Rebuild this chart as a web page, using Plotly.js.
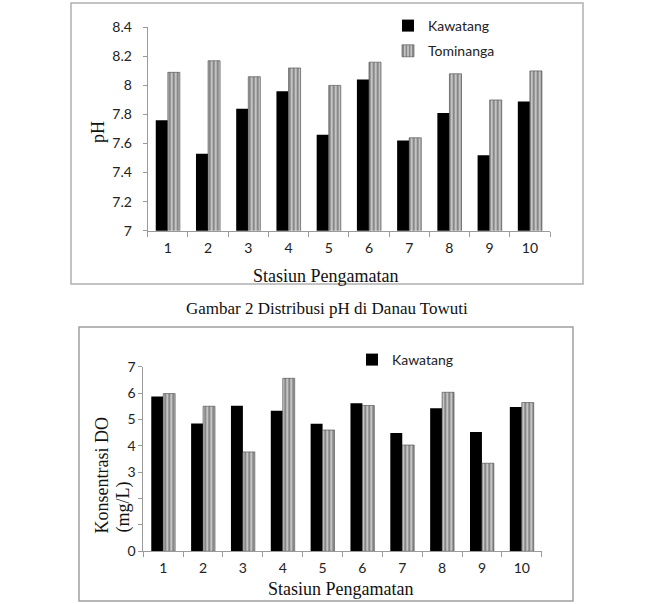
<!DOCTYPE html>
<html><head><meta charset="utf-8">
<script src="https://cdn.plot.ly/plotly-3.0.1.min.js"></script>
<style>html,body{margin:0;padding:0;background:#fff}#chart{width:662px;height:604px}</style>
</head><body><div id="chart"></div>
<script>
// ---- data ----
const stations = ['1','2','3','4','5','6','7','8','9','10'];
const phKawatang = [7.76, 7.53, 7.84, 7.96, 7.66, 8.04, 7.62, 7.81, 7.52, 7.89];
const phTominanga = [8.09, 8.17, 8.06, 8.12, 8.00, 8.16, 7.64, 8.08, 7.90, 8.10];
const doKawatang = [5.87, 4.85, 5.52, 5.33, 4.84, 5.61, 4.49, 5.42, 4.52, 5.47];
const doTominanga = [5.98, 5.50, 3.77, 6.56, 4.60, 5.53, 4.03, 6.03, 3.34, 5.64];
const phTickVals = [7, 7.2, 7.4, 7.6, 7.8, 8, 8.2, 8.4];
const phTickText = ['7', '7.2', '7.4', '7.6', '7.8', '8', '8.2', '8.4'];
const doTickVals = [0, 1, 2, 3, 4, 5, 6, 7];
const doTickText = ['0', '1', '2', '3', '4', '5', '6', '7'];
const seriesNames = ['Kawatang', 'Tominanga'];
const caption = 'Gambar 2 Distribusi pH di Danau Towuti';

// ---- helpers (pixel -> paper) ----
const W = 662, H = 604;
const px = x => x / W;
const py = y => 1 - y / H;

const sans = 'Lato, "Open Sans", sans-serif';
const serif = '"Liberation Serif", "Times New Roman", serif';

const kawMarker = {color: '#000000', line: {width: 0}};
const tomMarker = {
  color: '#c4c4c4',
  pattern: {shape: '|', fgcolor: '#6e6e6e', bgcolor: '#c4c4c4', size: 4, solidity: 0.35},
  line: {color: '#444', width: 0.6}
};

const traces = [
  {type: 'bar', x: stations, y: phKawatang, name: seriesNames[0], marker: kawMarker,
   xaxis: 'x', yaxis: 'y', legend: 'legend', legendgroup: 'a'},
  {type: 'bar', x: stations, y: phTominanga, name: seriesNames[1], marker: tomMarker,
   xaxis: 'x', yaxis: 'y', legend: 'legend', legendgroup: 'b'},
  {type: 'bar', x: stations, y: doKawatang, name: seriesNames[0], marker: kawMarker,
   xaxis: 'x2', yaxis: 'y2', legend: 'legend2'},
  {type: 'bar', x: stations, y: doTominanga, name: seriesNames[1], marker: tomMarker,
   xaxis: 'x2', yaxis: 'y2', showlegend: false}
];

const axisCommon = {
  showline: true, linecolor: '#9a9a9a', linewidth: 1, showgrid: false, zeroline: false,
  ticks: 'outside', tickcolor: '#9a9a9a', ticklen: 4, tickfont: {family: sans, size: 14, color: '#222'},
  fixedrange: true
};

const ann = (text, x, y, extra) => Object.assign({
  text: text, xref: 'paper', yref: 'paper', x: px(x), y: py(y), showarrow: false,
  xanchor: 'center', yanchor: 'middle', font: {family: serif, size: 18, color: '#111'}
}, extra || {});

const layout = {
  width: W, height: H,
  margin: {l: 0, r: 0, t: 0, b: 0},
  paper_bgcolor: '#fff', plot_bgcolor: 'rgba(0,0,0,0)',
  barmode: 'group', bargap: 0.4, bargroupgap: 0,
  showlegend: true,
  xaxis: Object.assign({}, axisCommon, {
    domain: [px(147.7), px(550)], anchor: 'y', type: 'category',
    tickson: 'boundaries', ticklen: 5, ticklabelstandoff: 4
  }),
  yaxis: Object.assign({}, axisCommon, {
    domain: [py(230.7), py(27.3)], anchor: 'x', range: [7, 8.4],
    tickvals: phTickVals, ticktext: phTickText, ticklabelstandoff: 8
  }),
  xaxis2: Object.assign({}, axisCommon, {
    domain: [px(143.3), px(541.7)], anchor: 'y2', type: 'category',
    tickson: 'boundaries', ticklen: 5, ticklabelstandoff: 4
  }),
  yaxis2: Object.assign({}, axisCommon, {
    domain: [py(551.3), py(366.7)], anchor: 'x2', range: [0, 7],
    tickvals: doTickVals, ticktext: doTickText
  }),
  legend: {
    x: px(388), y: py(10), xanchor: 'left', yanchor: 'top',
    bgcolor: 'rgba(0,0,0,0)', font: {family: sans, size: 14, color: '#222'},
    traceorder: 'grouped', tracegroupgap: 4
  },
  legend2: {
    x: px(352), y: py(344), xanchor: 'left', yanchor: 'top',
    bgcolor: 'rgba(0,0,0,0)', font: {family: sans, size: 14, color: '#222'}
  },
  shapes: [
    {type: 'rect', xref: 'paper', yref: 'paper', x0: px(71), x1: px(583), y0: py(284), y1: py(3),
     line: {color: '#b0b0b0', width: 1.5}},
    {type: 'rect', xref: 'paper', yref: 'paper', x0: px(79), x1: px(573), y0: py(601), y1: py(327),
     line: {color: '#a0a0a0', width: 1.5}}
  ],
  annotations: [
    ann('pH', 98, 132, {textangle: -90}),
    ann('Stasiun Pengamatan', 325, 276),
    ann(caption, 327, 308, {font: {family: serif, size: 17, color: '#111'}}),
    ann('Konsentrasi DO', 101, 475.5, {textangle: -90}),
    ann('(mg/L)', 123, 507.5, {textangle: -90, bgcolor: '#ffffff'}),
    ann('Stasiun Pengamatan', 340, 589)
  ]
};

Plotly.newPlot('chart', traces, layout, {staticPlot: true, displayModeBar: false});
</script>
</body></html>
